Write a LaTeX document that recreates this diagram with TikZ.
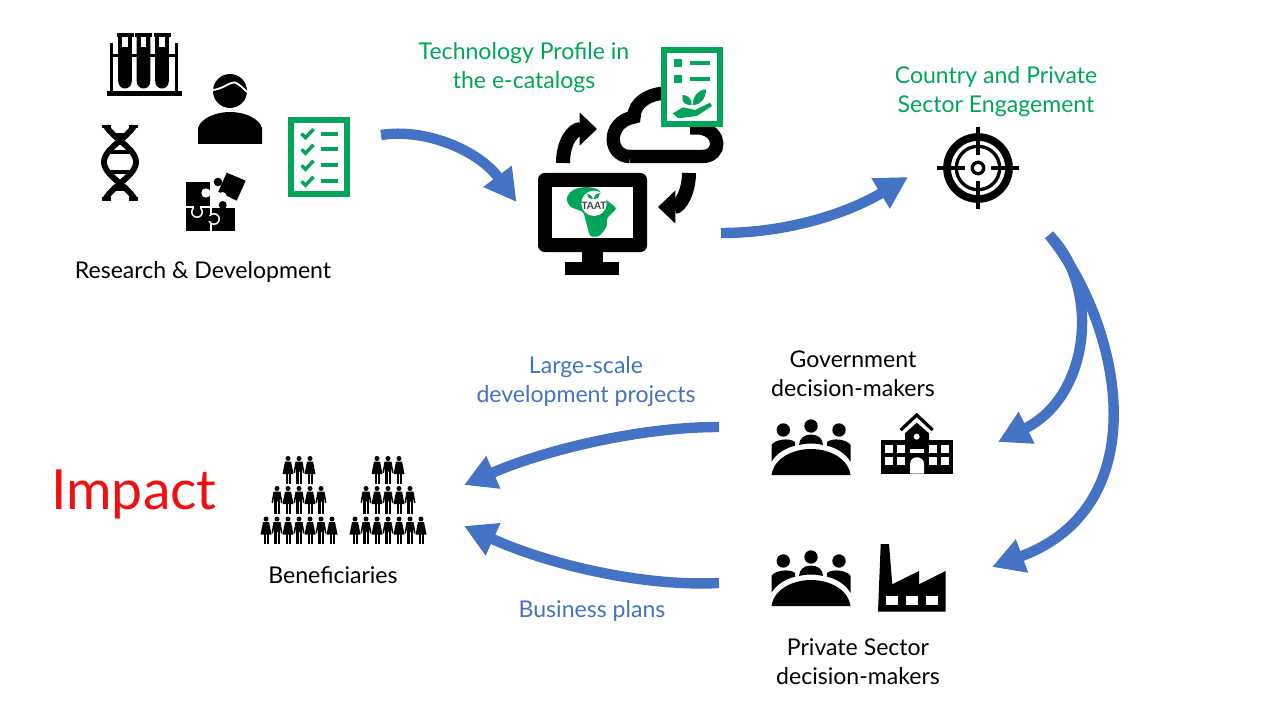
\documentclass[tikz,border=0pt]{standalone}
\usepackage{fontspec}
\setmainfont{Lato}
\usetikzlibrary{arrows.meta}
\definecolor{taatgreen}{HTML}{00A55A}
\definecolor{flowblue}{HTML}{4472C4}
\definecolor{impactred}{HTML}{F01010}
\tikzset{
  flowarrow/.style={draw=flowblue, line width=7.8pt, -{Triangle[length=24pt,width=25pt]}},
  cyclearrow/.style={draw=black, line width=10.5pt, -{Triangle[length=13pt,width=24pt]}},
  label/.style={align=center, inner sep=0pt, font=\fontsize{17.3}{21.75}\selectfont},
  greenlabel/.style={label, text=taatgreen},
  bluelabel/.style={label, text=flowblue},
  man/.pic={
    \fill (0,-11) circle (2.5);
    \fill (-3.5,-8) -- (3.5,-8) -- (5.5,3) -- (4,3.5) -- (2.8,-3) -- (2.8,2) -- (-2.8,2) -- (-2.8,-3) -- (-4,3.5) -- (-5.5,3) -- cycle;
    \fill (-2.7,0) rectangle (-0.5,14);
    \fill (0.5,0) rectangle (2.7,14);
  },
  woman/.pic={
    \fill (0,-11) circle (2.5);
    \fill (-3,-8) -- (3,-8) -- (5.5,4.5) -- (-5.5,4.5) -- cycle;
    \fill (-2.5,0) rectangle (-0.5,14);
    \fill (0.5,0) rectangle (2.5,14);
  },
  meeting/.pic={
    \fill (-27.7,-45) circle (6.7);
    \fill (0,-49) circle (6.7);
    \fill (28,-45) circle (6.7);
    \fill (-39.5,-13.3) -- (-39.5,-30) .. controls (-37,-35) and (-22,-38) .. (-16,-33) -- (-16,-29.3) .. controls (-26,-27) and (-35,-21) .. cycle;
    \fill (39.5,-13.3) -- (39.5,-30) .. controls (37,-35) and (22,-38) .. (16,-33) -- (16,-29.3) .. controls (26,-27) and (35,-21) .. cycle;
    \fill (-12,-30) .. controls (-12,-37) and (-6,-40.5) .. (0,-40.5) .. controls (6,-40.5) and (12,-37) .. (12,-30) .. controls (4,-32) and (-4,-32) .. cycle;
    \fill (-39.5,0) .. controls (-37,-17) and (-18,-26) .. (0,-26) .. controls (18,-26) and (37,-17) .. (39.5,0) -- cycle;
  },
}
\begin{document}
\begin{tikzpicture}[x=0.75pt,y=-0.75pt]
\useasboundingbox (0,0) rectangle (1280,720);

% rack of tubes
\fill (107,91) rectangle (182,96);
\fill (110,43) rectangle (113,91);
\fill (175,43) rectangle (178,91);
\fill (110,54) rectangle (178,57);
\foreach \tx in {125,143.5,162}{
  \fill (\tx-6.8,37) -- (\tx-6.8,81) .. controls (\tx-6.8,91) and (\tx+6.8,91) .. (\tx+6.8,81) -- (\tx+6.8,37) -- cycle;
  \fill[white] (\tx-2.7,37) rectangle (\tx+2.7,47);
  \fill (\tx-8.5,33) rectangle (\tx+8.5,37);
}

% dna
\draw[line width=4.4pt, domain=126:199, samples=40, variable=\t] plot ({120+16*cos((\t-162)/43*180)},\t);
\draw[line width=4.4pt, domain=126:199, samples=40, variable=\t] plot ({120-16*cos((\t-162)/43*180)},\t);
\draw[line width=2.6pt] (102,126.5) -- (111,126.5) (129,126.5) -- (138,126.5);
\draw[line width=2.6pt] (102,199) -- (111,199) (129,199) -- (138,199);
\foreach \ry/\rw in {135/8,152/14,172/14,189/8}{
  \draw[line width=2.6pt] (120-\rw,\ry) -- (120+\rw,\ry);
}

% person
\fill (230,91) circle (17);
\fill (198,144) -- (198,128) .. controls (201,118) and (216,112) .. (230,112) .. controls (244,112) and (259,118) .. (262,128) -- (262,144) -- cycle;
\draw[white, line width=1.4pt] (212,90) .. controls (222,90) and (232,80) .. (236,83) .. controls (240,85) and (243,88) .. (247,92);

% puzzle
\fill (186,182) rectangle (210,206);
\fill[white] (206,193) circle (4.7);
\fill (186,208) rectangle (210,231);
\fill[white] (197,212) circle (6);
\fill (197,212) circle (4.5);
\fill (194,205) rectangle (200,210);
\fill (212,208) rectangle (235,231);
\fill (222.7,205) circle (4);
\fill[white] (214,219) circle (6);
\fill (214,219) circle (4.5);
\fill (208,216.5) rectangle (213,221.5);
\fill (226.7,172.7) -- (245.7,180.7) -- (236.7,200.7) -- (218.3,191.7) -- cycle;
\fill[white] (222.5,196) circle (4);
\fill (218,182) circle (4.3);

% checklist
\draw[draw=taatgreen, line width=4.5pt] (291,120) rectangle (347,194);
\foreach \cy in {133.7,149.3,165.3,181.3}{
  \draw[taatgreen, line width=2.6pt] (301.5,\cy) -- (305.5,\cy+4) -- (313.5,\cy-4.5);
  \fill[taatgreen] (321,\cy-2) rectangle (338,\cy+2);
}

% cycle arrows and cloud
\draw[cyclearrow] (563,163) .. controls (563,142) and (573,129) .. (597,129);
\draw[cyclearrow] (689,173) .. controls (689,192) and (680,207) .. (658,207);
\draw[line width=10pt] (630,156.5) -- (702,156.5) .. controls (722,156.5) and (722,131) .. (700,128) -- (690,128) (630,156.5) .. controls (608,156.5) and (606,122) .. (634,117) .. controls (634,102) and (650,93) .. (668,93);
\filldraw[draw=taatgreen, fill=white, line width=4.5pt] (664,50) rectangle (720,124);
\fill[taatgreen] (674,59) rectangle (682,67);
\fill[taatgreen] (674,75) rectangle (682,83);
\fill[taatgreen] (690,61) rectangle (710,65);
\fill[taatgreen] (690,77) rectangle (710,81);
\fill[taatgreen] (672.7,113.3) -- (683.3,107.3) -- (695,110) -- (710,102.7) -- (712,106) -- (696.7,116) -- (678.3,118.3) -- cycle;
\fill[taatgreen] (691.7,105) .. controls (682,105) and (682,100) .. (682.7,95) .. controls (688,95) and (692,99) .. cycle;
\fill[taatgreen] (692.7,105) .. controls (693,96) and (698,90) .. (706,89.3) .. controls (706,98) and (701,105) .. cycle;

% monitor
\fill[rounded corners=5] (538,173) rectangle (647,252);
\fill[white] (552,187) rectangle (633,238);
\fill (582,252) rectangle (603,262);
\fill (565,262) rectangle (619,275);
\fill[taatgreen, rounded corners=2] (566,199) -- (570,192) -- (576,188.5) -- (586.7,186.5) -- (598.3,189) -- (605,199) -- (617,208.3) -- (606.7,218.3) -- (607,226.7) -- (599,236.7) -- (590,236.7) -- (585.5,220) -- (583.3,211.7) -- (570,207) -- cycle;
\fill[white] (594,203.3) circle (12.7);
\fill[taatgreen] (593,199) .. controls (588,199) and (587,196) .. (587,194) .. controls (590,194) and (593,196) .. cycle;
\fill[taatgreen] (594,199) .. controls (594,195) and (597,193) .. (600,193) .. controls (600,196) and (598,199) .. cycle;
\node[inner sep=0pt, font=\fontsize{7.6}{8}\selectfont\bfseries, text=black!75] (taatLogo) at (594,205.5) {TAAT};

% target
\draw[line width=5.8pt] (978,168) circle (31);
\draw[line width=2.5pt] (978,168) circle (21.7);
\draw[line width=2.5pt] (978,168) circle (5.7);
\draw[line width=2.8pt] (937,168) -- (965,168) (991,168) -- (1019,168) (978,127) -- (978,155) (978,181) -- (978,209);

% meeting tables, school, factory
\pic at (811,475) {meeting};
\pic at (811,606) {meeting};
\fill (881,440) rectangle (953,473.7);
\draw[line width=2.4pt] (900.7,430) -- (916.7,415) -- (932.7,430);
\fill (905,441) -- (905,433.3) -- (916.7,422.7) -- (929,433.3) -- (929,441) -- cycle;
\fill[white] (916.7,436.7) circle (3);
\fill[white] (910,449) rectangle (924,452.7);
\fill[white] (910,473.7) -- (910,464) .. controls (910,455) and (924,455) .. (924,464) -- (924,473.7) -- cycle;
\foreach \wx in {885,897,929,941}{
  \foreach \wy in {445,456.7}{
    \fill[white] (\wx,\wy) rectangle (\wx+8.3,\wy+8.3);
  }
}
\fill (878,611.7) -- (880.7,544) -- (889,544) -- (892.3,584.3) -- (919,571) -- (919,584.3) -- (945.7,571) -- (945.7,611.7) -- cycle;
\foreach \wx in {886,906,926}{
  \fill[white] (\wx,596) rectangle (\wx+12,604.7);
}

% beneficiaries
\foreach \gx in {299,388}{
  \foreach \dx in {-1,0,1}{
    \ifodd\dx \pic at (\gx+\dx*11,469.5) {woman}; \else \pic at (\gx+\dx*11,469.5) {man}; \fi
  }
  \foreach \dx in {-2,...,2}{
    \ifodd\dx \pic at (\gx+\dx*11,499.5) {woman}; \else \pic at (\gx+\dx*11,499.5) {man}; \fi
  }
  \foreach \dx in {-3,...,3}{
    \ifodd\dx \pic at (\gx+\dx*11,530) {woman}; \else \pic at (\gx+\dx*11,530) {man}; \fi
  }
}

% labels
\node[label] (rdLabel) at (203,271.5) {Research \& Development};
\node[greenlabel] (catalogLabel) at (524,68) {Technology Profile in\\the e-catalogs};
\node[greenlabel] (countryLabel) at (996,92) {Country and Private\\Sector Engagement};
\node[label] (govLabel) at (853,373.5) {Government\\decision-makers};
\node[label] (privLabel) at (858,661.5) {Private Sector\\decision-makers};
\node[bluelabel] (projectLabel) at (586,381.5) {Large-scale\\development projects};
\node[bluelabel] (planLabel) at (592,611) {Business plans};
\node[label] (benefLabel) at (333,575) {Beneficiaries};
\node[inner sep=0pt, text=impactred, font=\fontsize{41.5}{48}\selectfont] (impactLabel) at (134,494) {Impact};

% flow arrows
\coordinate (rdOut) at (381,135);
\coordinate (monitorIn) at (516.5,202);
\coordinate (monitorOut) at (721,233);
\coordinate (countryIn) at (908,177);
\coordinate (countryOut) at (1049,235);
\coordinate (govIn) at (998,442);
\coordinate (privIn) at (992,567);
\coordinate (govOut) at (719,427);
\coordinate (privOut) at (719,583);
\coordinate (benefTop) at (464,485);
\coordinate (benefBot) at (464,526);
\draw[flowarrow] (rdOut) .. controls (425,128) and (478,150) .. (monitorIn);
\draw[flowarrow] (monitorOut) .. controls (790,233) and (850,212) .. (countryIn);
\draw[flowarrow] (countryOut) .. controls (1100,285) and (1092,395) .. (govIn);
\draw[flowarrow] (countryOut) .. controls (1120,322) and (1160,505) .. (privIn);
\draw[flowarrow] (govOut) .. controls (640,427) and (545,450) .. (benefTop);
\draw[flowarrow] (privOut) .. controls (640,587) and (545,563) .. (benefBot);
\end{tikzpicture}
\end{document}
